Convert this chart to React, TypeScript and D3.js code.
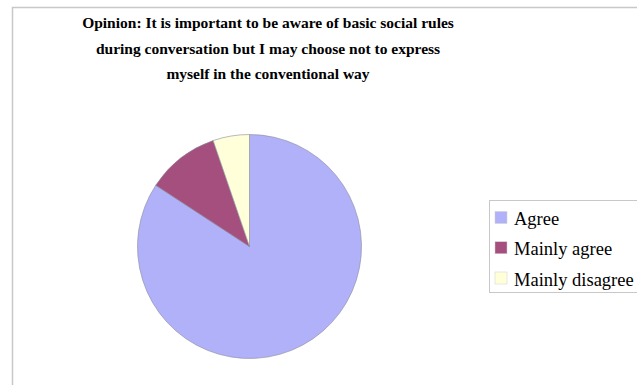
import React from "react";
import * as d3 from "d3";

const titleLines = [
  "Opinion: It is important to be aware of basic social rules",
  "during conversation but I may choose not to express",
  "myself in the conventional way",
];
const categories = ["Agree", "Mainly agree", "Mainly disagree"];
const values = [16, 2, 1];
const colors = ["#b1b1f9", "#a54f7e", "#ffffd9"];

export default function App() {
  const W = 637, H = 385;
  const cx = 249.5, cy = 246.5, r = 112;
  const pieGen = d3
    .pie<number>()
    .sort(null)
    .value((d) => d)
    .startAngle(0)
    .endAngle(2 * Math.PI);
  const arcs = pieGen(values);
  const arc = d3.arc<d3.PieArcDatum<number>>().innerRadius(0).outerRadius(r);
  const legendY = d3.scalePoint<string>().domain(categories).range([217.5, 278]);
  return (
    <svg
      width={W}
      height={H}
      style={{ position: "absolute", left: 0, top: 0, background: "#fff" }}
      fontFamily="'Liberation Serif', 'Times New Roman', serif"
    >
      <rect x={12.5} y={7.5} width={700} height={500} fill="#fff" stroke="#c8c8c8" strokeWidth={1.5} />
      {titleLines.map((t, i) => (
        <text
          key={i}
          x={268}
          y={28 + i * 25.5}
          textAnchor="middle"
          fontWeight="bold"
          fontSize={15.5}
          fill="#000"
        >
          {t}
        </text>
      ))}
      <g transform={`translate(${cx},${cy})`}>
        {arcs.map((a, i) => (
          <path key={i} d={arc(a) || ""} fill={colors[i]} stroke="#8a8a9a" strokeWidth={0.6} />
        ))}
      </g>
      <rect x={489.5} y={200.5} width={200} height={92} fill="#fff" stroke="#c8c8c8" strokeWidth={1} />
      {categories.map((c, i) => (
        <g key={c} transform={`translate(0,${legendY(c)})`}>
          <rect x={495} y={-6} width={12} height={12} fill={colors[i]} stroke="#d0d0d0" strokeWidth={0.5} />
          <text x={514} y={7.5} fontSize={18.5} fill="#000">
            {c}
          </text>
        </g>
      ))}
    </svg>
  );
}
